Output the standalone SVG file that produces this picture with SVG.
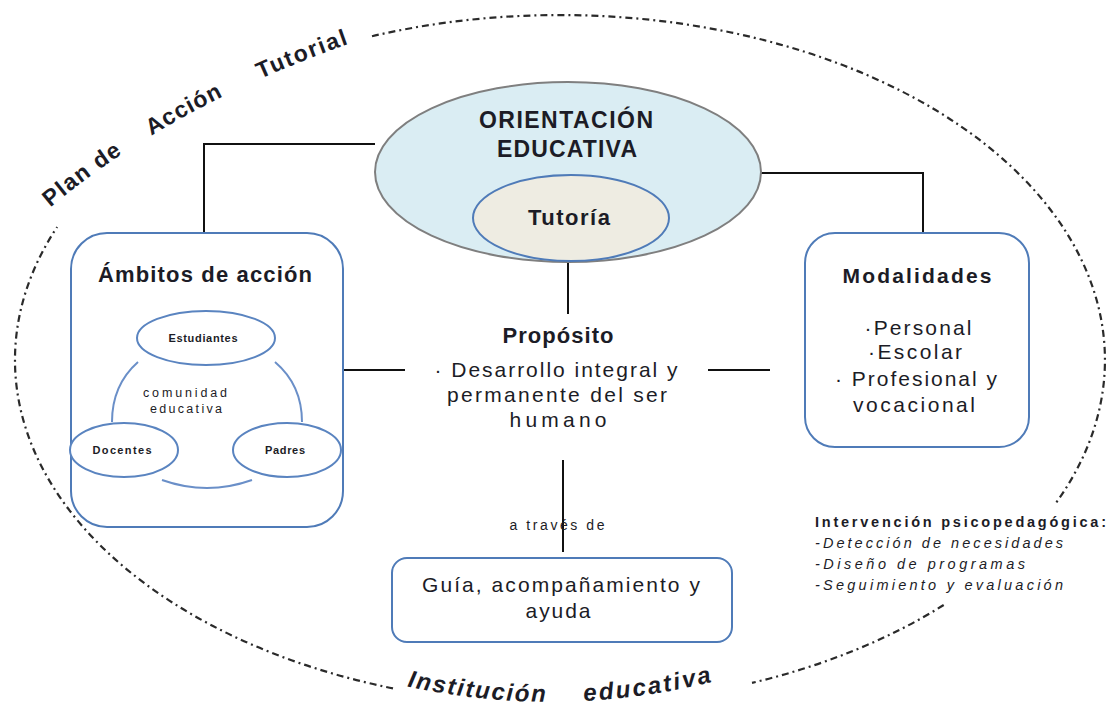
<svg xmlns="http://www.w3.org/2000/svg" width="1109" height="709" viewBox="0 0 1109 709">
<style>
text{font-family:"Liberation Sans",Arial,sans-serif;fill:#1c1c26}
.b{font-weight:bold}
.box{fill:#fff;stroke:#4F7BB8;stroke-width:2}
.conn{fill:none;stroke:#111;stroke-width:2}
.outer{fill:none;stroke:#2a2a2a;stroke-width:2.2;stroke-dasharray:7 4 2 4}
.arc{fill:none;stroke:#6A8FC8;stroke-width:2}
.sm{fill:#fff;stroke:#5A84C0;stroke-width:2}
.tiny{font-size:11px;font-weight:bold}
.mid{text-anchor:middle}
.body{font-size:21px}
</style>
<defs>
<path id="topArc" d="M45,212 Q170,105 360,40"/>
<path id="botArc" d="M400,685 Q560,721 720,680"/>
</defs>
<rect width="1109" height="709" fill="#fff"/>

<g id="frame">
<path class="outer" d="M372,36.2 A545,345 0 0,1 1054.5,505"/>
<path class="outer" d="M943.7,605 A545,345 0 0,1 752,682.9"/>
<path class="outer" d="M393,688.4 A545,345 0 0,1 57.1,227"/>
<text class="b" font-size="23"><textPath href="#topArc" startOffset="7" textLength="90">Plan de</textPath></text>
<text class="b" font-size="23"><textPath href="#topArc" startOffset="131" textLength="82">Acción</textPath></text>
<text class="b" font-size="23"><textPath href="#topArc" startOffset="254" textLength="95">Tutorial</textPath></text>
<text class="b" font-size="24" font-style="italic"><textPath href="#botArc" startOffset="7" textLength="140">Institución</textPath></text>
<text class="b" font-size="24" font-style="italic"><textPath href="#botArc" startOffset="185" textLength="130">educativa</textPath></text>
</g>

<g id="connectors">
<path class="conn" d="M375,144 H204 V233"/>
<path class="conn" d="M761,173 H923 V233"/>
<path class="conn" d="M568,262 V314"/>
<path class="conn" d="M343,370 H405"/>
<path class="conn" d="M708,370 H770"/>
<path class="conn" d="M563,460 V552"/>
</g>

<g id="orientacion">
<ellipse cx="568" cy="172" rx="193" ry="90" fill="#DAEDF3" stroke="#7f7f7f" stroke-width="2"/>
<text class="b mid" x="566" y="128" font-size="23" textLength="174">ORIENTACIÓN</text>
<text class="b mid" x="567" y="157" font-size="23" textLength="140">EDUCATIVA</text>
</g>

<g id="tutoria">
<ellipse cx="571" cy="218" rx="98" ry="43" fill="#EEECE2" stroke="#4F7BB8" stroke-width="2"/>
<text class="b mid" x="569" y="225" font-size="22" textLength="82">Tutoría</text>
</g>

<g id="ambitos">
<rect class="box" x="71" y="233" width="272" height="294" rx="36"/>
<text class="b mid" x="205" y="282" font-size="22" textLength="214">Ámbitos de acción</text>
<path class="arc" d="M138,362 Q112,385 112,422"/>
<path class="arc" d="M275,362 Q302,385 302,422"/>
<path class="arc" d="M162,480 Q207,496 252,480"/>
<text class="mid" x="185" y="397" font-size="12.5" textLength="84">comunidad</text>
<text class="mid" x="186" y="413" font-size="12.5" textLength="72">educativa</text>
<g id="estudiantes">
<ellipse class="sm" cx="206" cy="338" rx="69" ry="27"/>
<text class="tiny mid" x="203" y="342" textLength="69">Estudiantes</text>
</g>
<g id="docentes">
<ellipse class="sm" cx="124" cy="450" rx="54" ry="27"/>
<text class="tiny mid" x="122" y="454" textLength="59">Docentes</text>
</g>
<g id="padres">
<ellipse class="sm" cx="287" cy="450" rx="54" ry="27"/>
<text class="tiny mid" x="285" y="454" textLength="40">Padres</text>
</g>
</g>

<g id="proposito">
<text class="b mid" x="558" y="343" font-size="22" textLength="111">Propósito</text>
<text class="mid body" x="556" y="377" textLength="243">· Desarrollo integral y</text>
<text class="mid body" x="557" y="402" textLength="220">permanente del ser</text>
<text class="mid body" x="558" y="427" textLength="97">humano</text>
</g>

<g id="modalidades">
<rect class="box" x="805" y="233" width="224" height="214" rx="30"/>
<text class="b mid" x="917" y="283" font-size="21" textLength="149">Modalidades</text>
<text class="mid body" x="918" y="335" textLength="107">·Personal</text>
<text class="mid body" x="915" y="359" textLength="94">·Escolar</text>
<text class="mid body" x="916" y="386" textLength="162">· Profesional y</text>
<text class="mid body" x="914" y="412" textLength="122">vocacional</text>
</g>

<g id="intervencion">
<text class="b" x="815" y="527" font-size="14.5" textLength="291">Intervención psicopedagógica:</text>
<text x="815" y="548" font-size="14.5" font-style="italic" textLength="248">-Detección de necesidades</text>
<text x="815" y="569" font-size="14.5" font-style="italic" textLength="210">-Diseño de programas</text>
<text x="815" y="590" font-size="14.5" font-style="italic" textLength="248">-Seguimiento y evaluación</text>
</g>

<g id="a-traves">
<text class="mid" x="557" y="530" font-size="14" textLength="95">a través de</text>
</g>

<g id="guia">
<rect class="box" x="392" y="558" width="340" height="84" rx="15"/>
<text class="mid body" x="561" y="592" textLength="278">Guía, acompañamiento y</text>
<text class="mid body" x="558" y="618" textLength="65">ayuda</text>
</g>
</svg>
